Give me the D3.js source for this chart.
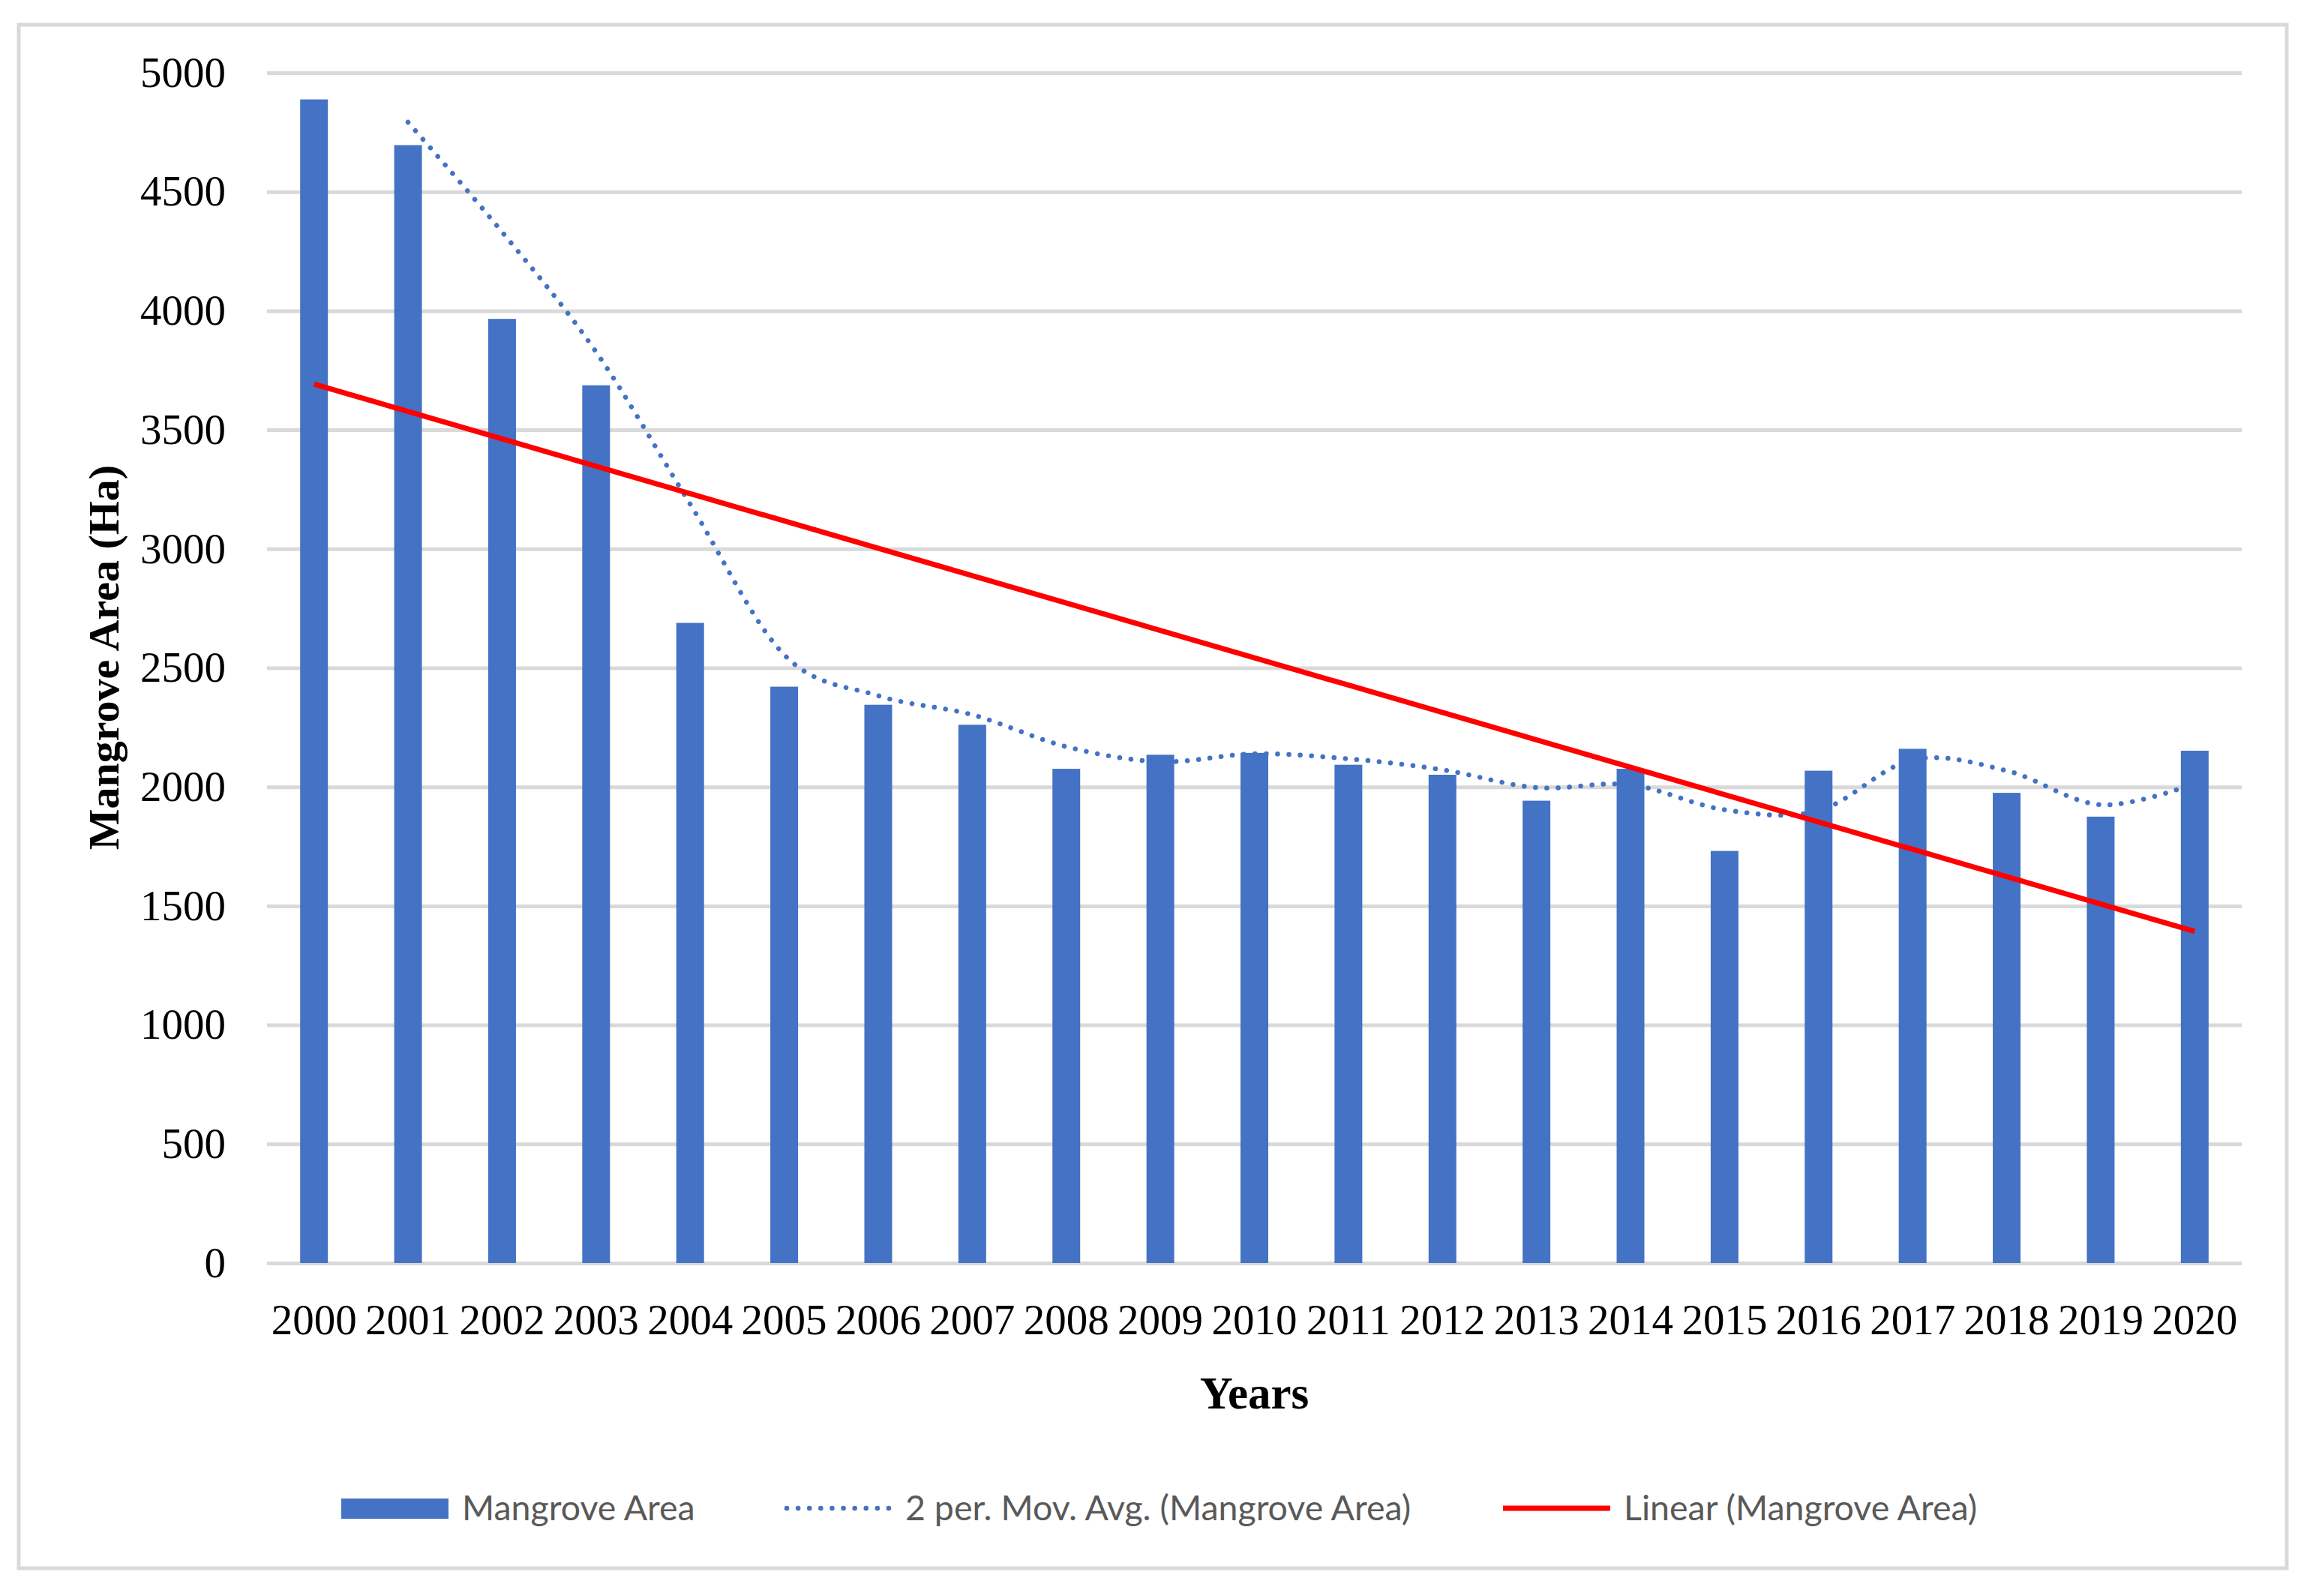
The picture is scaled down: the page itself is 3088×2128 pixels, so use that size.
<!DOCTYPE html>
<html lang="en">
  <head>
    <title>Mangrove Area</title>
    <meta charset="utf-8" />
    <script src="https://d3js.org/d3.v7.min.js"></script>
    <style>
      body { margin: 0; background: #ffffff; }
      .tick text { font-family: "Liberation Serif", serif; fill: #000000; }
      .legend text { font-family: Lato, "Open Sans", sans-serif; fill: #595959; }
    </style>
  </head>
  <body>
    <svg id="chart" width="3088" height="2128"></svg>
    <script>
      // values
      const years = ["2000","2001","2002","2003","2004","2005","2006","2007","2008","2009","2010",
                     "2011","2012","2013","2014","2015","2016","2017","2018","2019","2020"];
      const mangroveArea = [4888, 4696, 3966, 3687, 2689, 2421, 2345, 2261, 2076, 2135, 2143,
                            2093, 2051, 1942, 2076, 1731, 2068, 2160, 1975, 1875, 2152];
      // 2 period moving average, starts at 2001
      const movAvgYears = years.slice(1);
      const movAvg = [4792, 4331, 3827, 3188, 2555, 2383, 2303, 2169, 2106, 2139,
                      2118, 2072, 1997, 2009, 1904, 1900, 2114, 2068, 1925, 2014];
      // linear trend end points
      const trendYears = ["2000", "2020"];
      const trendValues = [3692, 1393];
      const yTicks = [0, 500, 1000, 1500, 2000, 2500, 3000, 3500, 4000, 4500, 5000];
      const legendLabels = ["Mangrove Area", "2 per. Mov. Avg. (Mangrove Area)", "Linear (Mangrove Area)"];

      const blue = "#4472C4";
      const red = "#FF0000";
      const grid = "#D9D9D9";

      const svg = d3.select("svg#chart");
      const plot = {left: 356, right: 2989, top: 97, bottom: 1684};

      // outer frame
      svg.append("rect")
        .attr("x", 25).attr("y", 33)
        .attr("width", 3024).attr("height", 2058)
        .attr("fill", "#ffffff")
        .attr("stroke", grid)
        .attr("stroke-width", 5);

      const xScale = d3.scaleBand()
        .domain(years)
        .range([plot.left, plot.right])
        .paddingInner(0.705)
        .paddingOuter(0.3525);

      const yScale = d3.scaleLinear()
        .domain([0, 5000])
        .range([plot.bottom, plot.top]);

      const xMid = d => xScale(d) + xScale.bandwidth() / 2;

      // gridlines
      let gridlines = d3.axisLeft(yScale)
        .tickValues(yTicks)
        .tickSize(-(plot.right - plot.left))
        .tickFormat("");
      svg.append("g")
        .attr("class", "y gridlines")
        .attr("transform", "translate(" + plot.left + ",0)")
        .call(gridlines)
        .call(g => g.select(".domain").remove())
        .selectAll("line")
        .attr("stroke", grid)
        .attr("stroke-width", 5);

      // y axis labels
      let leftAxis = d3.axisLeft(yScale)
        .tickValues(yTicks)
        .tickSize(0)
        .tickPadding(55)
        .tickFormat(d3.format("d"));
      svg.append("g")
        .attr("class", "y axis")
        .attr("transform", "translate(" + plot.left + ",0)")
        .call(leftAxis)
        .call(g => g.select(".domain").remove())
        .selectAll("text")
        .style("font-size", "57px");

      // x axis labels
      let bottomAxis = d3.axisBottom(xScale).tickSize(0).tickPadding(0);
      svg.append("g")
        .attr("class", "x axis")
        .attr("transform", "translate(0," + plot.bottom + ")")
        .call(bottomAxis)
        .call(g => g.select(".domain").remove())
        .selectAll("text")
        .attr("dy", null)
        .attr("y", 95)
        .style("font-size", "57px");

      // bars
      svg.append("g").selectAll("rect.bar")
        .data(years)
        .join("rect")
        .attr("class", "bar")
        .attr("x", d => xScale(d))
        .attr("width", xScale.bandwidth())
        .attr("y", (d, i) => yScale(mangroveArea[i]))
        .attr("height", (d, i) => yScale(0) - yScale(mangroveArea[i]))
        .attr("fill", blue);

      // moving average
      const maLine = d3.line()
        .x((d, i) => xMid(movAvgYears[i]))
        .y(d => yScale(d))
        .curve(d3.curveCardinal.tension(0));
      svg.append("path")
        .datum(movAvg)
        .attr("d", maLine)
        .attr("fill", "none")
        .attr("stroke", blue)
        .attr("stroke-width", 6.5)
        .attr("stroke-linecap", "round")
        .attr("stroke-dasharray", "0.1 15");

      // linear trend
      const trendLine = d3.line()
        .x((d, i) => xMid(trendYears[i]))
        .y(d => yScale(d));
      svg.append("path")
        .datum(trendValues)
        .attr("d", trendLine)
        .attr("fill", "none")
        .attr("stroke", red)
        .attr("stroke-width", 7);

      // axis titles
      svg.append("text")
        .attr("transform", "translate(158," + ((plot.top + plot.bottom) / 2 - 14) + ") rotate(-90)")
        .attr("text-anchor", "middle")
        .style("font-family", "'Liberation Serif', serif")
        .style("font-weight", "bold")
        .style("font-size", "58px")
        .text("Mangrove Area (Ha)");

      svg.append("text")
        .attr("x", (plot.left + plot.right) / 2)
        .attr("y", 1878)
        .attr("text-anchor", "middle")
        .style("font-family", "'Liberation Serif', serif")
        .style("font-weight", "bold")
        .style("font-size", "61px")
        .text("Years");

      // legend
      const legendX = [455, 1046, 2004];
      const legendY = 2011;
      const sampleW = 143;
      let legend = svg.append("g").attr("class", "legend");
      legend.append("rect")
        .attr("x", legendX[0]).attr("y", legendY - 13)
        .attr("width", sampleW).attr("height", 27)
        .attr("fill", blue);
      legend.append("line")
        .attr("x1", legendX[1] + 3).attr("x2", legendX[1] + sampleW)
        .attr("y1", legendY).attr("y2", legendY)
        .attr("stroke", blue)
        .attr("stroke-width", 6.5)
        .attr("stroke-linecap", "round")
        .attr("stroke-dasharray", "0.1 15");
      legend.append("line")
        .attr("x1", legendX[2]).attr("x2", legendX[2] + sampleW)
        .attr("y1", legendY).attr("y2", legendY)
        .attr("stroke", red)
        .attr("stroke-width", 7);
      legend.selectAll("text")
        .data(legendLabels)
        .join("text")
        .attr("x", (d, i) => legendX[i] + sampleW + 18)
        .attr("y", legendY + 16)
        .style("font-size", "46.5px")
        .text(d => d);
    </script>
  </body>
</html>
